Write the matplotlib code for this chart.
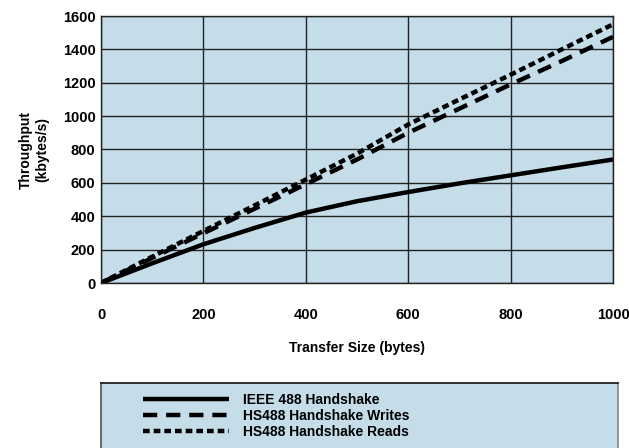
"""
Throughput vs transfer size for IEEE 488 and HS488 handshakes
"""
import matplotlib
matplotlib.use('Agg')
import matplotlib.pyplot as plt

# data
sizes = [0, 100, 200, 300, 400, 500, 600, 700, 800, 900, 1000]
ieee488 = [0, 118, 232, 330, 422, 490, 545, 597, 645, 693, 740]
hs488_writes = [0, 150, 298, 445, 592, 740, 900, 1045, 1190, 1330, 1475]
hs488_reads = [0, 158, 312, 465, 620, 775, 950, 1100, 1248, 1400, 1550]

labels = ['IEEE 488 Handshake', 'HS488 Handshake Writes', 'HS488 Handshake Reads']
xticks = [0, 200, 400, 600, 800, 1000]
yticks = [0, 200, 400, 600, 800, 1000, 1200, 1400, 1600]

BG = '#c5dde9'
plt.rcParams['font.family'] = ['Liberation Sans', 'DejaVu Sans']

fig = plt.figure(figsize=(6.29, 4.48), dpi=100)
ax = fig.add_axes([101 / 629, 1 - 283 / 448, 512 / 629, 267 / 448])
ax.set_facecolor(BG)

l1, = ax.plot(sizes, ieee488, color='black', lw=3.2, solid_capstyle='butt')
l2, = ax.plot(sizes, hs488_writes, color='black', lw=3.2, dashes=(3.2, 2.0))
l3, = ax.plot(sizes, hs488_reads, color='black', lw=3.2, dashes=(1.5, 0.9))

ax.set_xlim(0, 1000)
ax.set_ylim(0, 1600)
ax.set_xticks(xticks)
ax.set_yticks(yticks)
ax.grid(True, color='#222222', lw=1.0)
ax.set_axisbelow(True)
ax.tick_params(length=0, labelsize=10.5)
ax.tick_params(axis='x', pad=18)
ax.tick_params(axis='y', pad=4)
for lab in ax.get_xticklabels() + ax.get_yticklabels():
    lab.set_fontweight('bold')
for sp in ax.spines.values():
    sp.set_color('#222222')
    sp.set_linewidth(1.0)

ax.set_xlabel('Transfer Size (bytes)', fontsize=10, fontweight='bold', labelpad=14)
ax.set_ylabel('Throughput\n(kbytes/s)', fontsize=10, fontweight='bold', labelpad=10)

# legend panel, cut off at the bottom edge like the original
lax = fig.add_axes([101 / 629, 0, 517 / 629, (448 - 383) / 448])
lax.set_facecolor(BG)
lax.set_xticks([])
lax.set_yticks([])
lax.spines['bottom'].set_visible(False)
lax.spines['top'].set_color('#111111')
lax.spines['left'].set_color('#555555')
lax.spines['right'].set_color('#888888')
for sp in lax.spines.values():
    sp.set_linewidth(1.2)
leg = lax.legend([l1, l2, l3], labels, loc='upper left', frameon=False,
                 handlelength=6.2, handletextpad=1.0, labelspacing=0.15,
                 borderaxespad=0.0, bbox_to_anchor=(0.07, 0.93),
                 prop={'size': 10, 'weight': 'bold'})

fig.savefig('out.png', dpi=100)
